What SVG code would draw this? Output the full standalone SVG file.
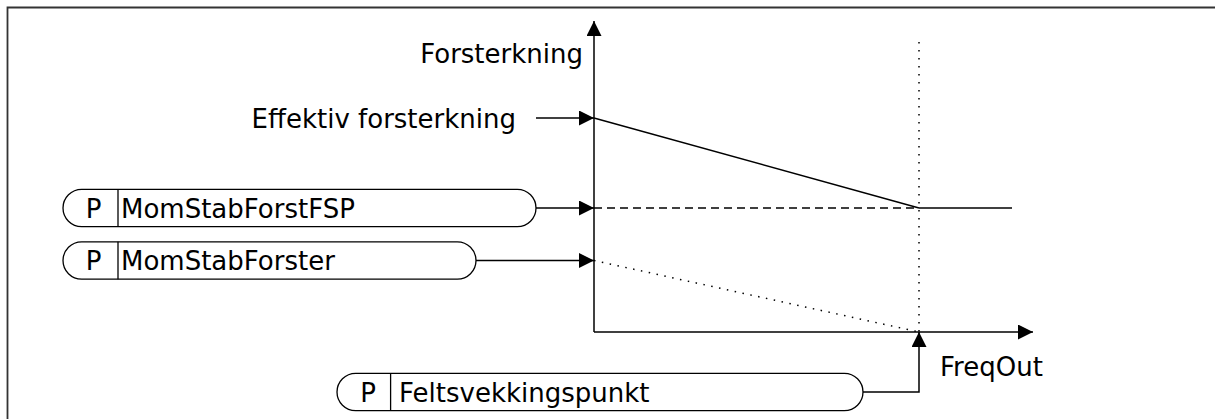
<svg xmlns="http://www.w3.org/2000/svg" width="1215" height="419" viewBox="0 0 1215 419">
<style>
text{font-family:"DejaVu Sans","Liberation Sans",sans-serif;font-size:26px;fill:#000}
.pill{fill:#fff;stroke:#000;stroke-width:1.3}
.div{stroke:#000;stroke-width:1.3}
.ln{fill:none;stroke:#000;stroke-width:1.5}
.dash{fill:none;stroke:#000;stroke-width:1.5;stroke-dasharray:8 5}
.dot{fill:none;stroke:#000;stroke-width:1.5;stroke-dasharray:1.5 6.5}
</style>
<defs>
<marker id="ah" markerUnits="userSpaceOnUse" markerWidth="15" markerHeight="15" refX="15" refY="7.5" orient="auto" viewBox="0 0 15 15">
<path d="M0,0 L15,7.5 L0,15 z" fill="#000"/>
</marker>
</defs>
<path d="M7.5,419 V7.5 H1215" fill="none" stroke="#333" stroke-width="1.8"/>
<g id="axes">
<line class="ln" x1="594" y1="332" x2="594" y2="21" marker-end="url(#ah)"/>
<line class="ln" x1="594" y1="332" x2="1033" y2="332" marker-end="url(#ah)"/>
<text x="583" y="63" text-anchor="end">Forsterkning</text>
<text x="940" y="376">FreqOut</text>
</g>
<g id="curves">
<line class="dot" x1="919" y1="42" x2="919" y2="332"/>
<line class="ln" x1="594" y1="118" x2="919" y2="208"/>
<line class="dash" x1="594" y1="208" x2="919" y2="208"/>
<line class="ln" x1="919" y1="208" x2="1012" y2="208"/>
<line class="dot" x1="594" y1="260.5" x2="919" y2="332"/>
</g>
<g id="effektiv">
<text x="516" y="128" text-anchor="end">Effektiv forsterkning</text>
</g>
<g id="p1">
<path class="pill" d="M81.7,189.3 H517.3 A18.7,18.7 0 0 1 517.3,226.7 H81.7 A18.7,18.7 0 0 1 81.7,189.3 z"/>
<line class="div" x1="118" y1="189.3" x2="118" y2="226.7"/>
<text x="93.5" y="217.5" text-anchor="middle">P</text>
<text x="121" y="217.5">MomStabForstFSP</text>
</g>
<g id="p2">
<path class="pill" d="M81.7,241.8 H457.3 A18.7,18.7 0 0 1 457.3,279.2 H81.7 A18.7,18.7 0 0 1 81.7,241.8 z"/>
<line class="div" x1="118" y1="241.8" x2="118" y2="279.2"/>
<text x="93.5" y="270" text-anchor="middle">P</text>
<text x="121" y="270">MomStabForster</text>
</g>
<g id="p3">
<path class="pill" d="M355.7,373.3 H844.3 A18.7,18.7 0 0 1 844.3,410.7 H355.7 A18.7,18.7 0 0 1 355.7,373.3 z"/>
<line class="div" x1="390.6" y1="373.3" x2="390.6" y2="410.7"/>
<text x="368" y="401.5" text-anchor="middle">P</text>
<text x="399" y="401.5">Feltsvekkingspunkt</text>
</g>
<g id="connectors">
<line class="ln" x1="536" y1="118" x2="594" y2="118" marker-end="url(#ah)"/>
<line class="ln" x1="536" y1="208" x2="594" y2="208" marker-end="url(#ah)"/>
<line class="ln" x1="476" y1="260.5" x2="594" y2="260.5" marker-end="url(#ah)"/>
<path class="ln" d="M863,392 H919 V332" marker-end="url(#ah)"/>
</g>
</svg>
